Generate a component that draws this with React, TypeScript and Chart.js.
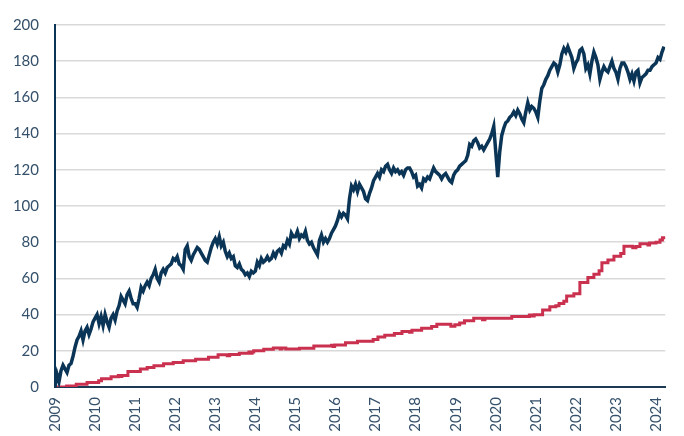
import React, { useEffect, useRef } from "react";
import { Chart, registerables } from "chart.js";

Chart.register(...registerables);

// Tick labels
const yearTicks = [2009, 2010, 2011, 2012, 2013, 2014, 2015, 2016, 2017, 2018, 2019, 2020, 2021, 2022, 2023, 2024];
const xMin = 2009;
const xMax = 2024.23;

// Navy series: sampled every 0.05 year starting 2009.00
const navyStart = 2009;
const navyStep = 0.05;
const navy2009 = [0, 7, 3, 9, 12, 10, 8, 12, 13, 17, 22, 26, 28, 31, 26, 31, 33, 29, 32, 36];
const navy2010 = [38, 40, 35, 39, 34, 40, 36, 33, 38, 40, 37, 42, 45, 50, 48, 46, 51, 53, 49, 46];
const navy2011 = [46, 44, 49, 55, 53, 56, 58, 56, 60, 62, 65, 60, 58, 63, 65, 63, 66, 67, 68, 71];
const navy2012 = [70, 72, 68, 67, 65, 76, 78, 72, 70, 73, 75, 77, 76, 74, 72, 70, 69, 73, 77, 80];
const navy2013 = [82, 79, 83, 78, 80, 75, 72, 74, 71, 72, 67, 66, 68, 65, 64, 62, 63, 61, 64, 63];
const navy2014 = [64, 69, 67, 71, 69, 70, 72, 70, 71, 74, 72, 75, 76, 74, 78, 77, 81, 79, 85, 83];
const navy2015 = [83, 86, 82, 84, 83, 86, 81, 79, 80, 77, 75, 73, 81, 84, 80, 82, 80, 82, 85, 87];
const navy2016 = [89, 92, 96, 94, 96, 95, 93, 104, 111, 109, 112, 108, 112, 110, 108, 104, 103, 107, 110, 114];
const navy2017 = [116, 118, 116, 120, 119, 122, 123, 120, 118, 121, 119, 120, 118, 119, 117, 120, 121, 121, 119, 116];
const navy2018 = [117, 111, 112, 110, 115, 114, 116, 115, 118, 121, 119, 118, 117, 115, 117, 118, 116, 114, 113, 117];
const navy2019 = [119, 120, 122, 123, 124, 125, 128, 134, 133, 136, 137, 135, 132, 133, 131, 133, 135, 137, 140, 144];
const navy2020 = [130, 116, 130, 139, 143, 146, 147, 149, 150, 152, 150, 153, 151, 148, 146, 152, 157, 153, 155, 154];
const navy2021 = [152, 149, 158, 165, 167, 170, 172, 175, 177, 179, 178, 174, 178, 184, 187, 185, 188, 185, 182, 176];
const navy2022 = [179, 181, 186, 187, 184, 176, 178, 173, 180, 185, 182, 178, 170, 174, 177, 175, 174, 177, 180, 176];
const navy2023 = [174, 170, 176, 179, 179, 177, 174, 170, 173, 169, 174, 175, 168, 171, 172, 173, 175, 175, 177, 178];
const navy2024 = [179, 182, 181, 185, 188];

// Red step series: [year of step, value]
const redYears = [
  2009.0, 2009.29, 2009.53, 2009.8, 2010.09, 2010.16, 2010.4, 2010.58, 2010.62, 2010.67, 2010.82,
  2011.13, 2011.3, 2011.47, 2011.71, 2011.95, 2012.2, 2012.51, 2012.83, 2013.07, 2013.3, 2013.36,
  2013.6, 2013.84, 2013.88, 2013.92, 2013.96, 2014.21, 2014.45, 2014.62, 2014.66, 2014.76, 2015.1,
  2015.46, 2015.9, 2015.94, 2015.98, 2016.25, 2016.55, 2016.94, 2017.06, 2017.23, 2017.47, 2017.66,
  2017.85, 2017.91, 2018.15, 2018.4, 2018.53, 2018.88, 2018.98, 2019.1, 2019.22, 2019.45, 2019.67,
  2019.73, 2020.4, 2020.84, 2020.9, 2020.96, 2021.17, 2021.35, 2021.5, 2021.58, 2021.7, 2021.77,
  2021.95, 2022.1, 2022.3, 2022.45, 2022.58, 2022.65, 2022.8, 2022.95, 2023.12, 2023.2, 2023.42,
  2023.5, 2023.6, 2023.8, 2023.84, 2024.0, 2024.1, 2024.16, 2024.23,
];
const redValues = [
  0, 0.5, 1.5, 2.5, 3.4, 4.6, 5.6, 6.4, 5.8, 6.4, 8.6,
  10.0, 10.8, 11.8, 12.8, 13.6, 14.5, 15.4, 16.4, 17.8, 17.3, 18.0,
  18.6, 19.3, 18.6, 19.4, 20.0, 20.8, 21.6, 21.0, 21.6, 21.0, 21.4,
  22.6, 23.1, 22.4, 23.2, 24.4, 25.3, 26.3, 27.6, 28.6, 29.5, 30.6,
  30.2, 31.4, 32.4, 33.4, 34.6, 33.6, 34.4, 35.3, 36.6, 38.0, 37.2,
  38.0, 38.9, 39.8, 39.2, 39.9, 42.5, 44.3, 44.9, 46.1, 47.4, 50.3,
  51.5, 57.8, 60.5, 62.3, 64.2, 68.6, 70.1, 72.3, 73.7, 77.7, 77.0,
  77.6, 79.1, 78.4, 79.5, 80.0, 81.2, 82.4, 83.0,
];

const navyColor = "#0b3556";
const redColor = "#c9314f";
const textColor = "#34506a";

export default function App() {
  const ref = useRef<HTMLCanvasElement | null>(null);

  useEffect(() => {
    document.body.style.margin = "0";
    const canvas = ref.current;
    if (!canvas) return;

    const navyValues = [
      ...navy2009, ...navy2010, ...navy2011, ...navy2012, ...navy2013, ...navy2014, ...navy2015,
      ...navy2016, ...navy2017, ...navy2018, ...navy2019, ...navy2020, ...navy2021, ...navy2022,
      ...navy2023, ...navy2024,
    ];
    const navyData = navyValues.map((v, i) => ({ x: navyStart + i * navyStep, y: v }));
    const redData = redYears.map((x, i) => ({ x, y: redValues[i] }));

    const chart = new Chart(canvas, {
      type: "line",
      data: {
        datasets: [
          {
            data: navyData,
            borderColor: navyColor,
            borderWidth: 3.5,
            pointRadius: 0,
            tension: 0,
            borderJoinStyle: "miter",
          },
          {
            data: redData,
            borderColor: redColor,
            borderWidth: 3,
            pointRadius: 0,
            stepped: "before",
          },
        ],
      },
      options: {
        animation: false,
        responsive: false,
        devicePixelRatio: 1,
        layout: { padding: { top: 17, left: 0, right: 0, bottom: 0 } },
        plugins: { legend: { display: false }, tooltip: { enabled: false } },
        scales: {
          x: {
            type: "linear",
            min: xMin,
            max: xMax,
            afterBuildTicks: (scale: any) => {
              scale.ticks = yearTicks.map((v) => ({ value: v }));
            },
            afterFit: (scale: any) => {
              scale.height = 49;
            },
            grid: { display: false, drawTicks: false },
            border: { display: true, color: "#1d3a55", width: 2 },
            ticks: {
              autoSkip: false,
              maxRotation: 90,
              minRotation: 90,
              padding: 10,
              color: textColor,
              font: { family: "Lato", size: 15 },
              callback: (v: any) => String(v),
            },
          },
          y: {
            min: 0,
            max: 200,
            afterFit: (scale: any) => {
              scale.width = 55;
            },
            grid: { color: "#d9d9d9", lineWidth: 1.5, drawTicks: false },
            border: { display: true, color: "#0b3556", width: 2 },
            ticks: {
              stepSize: 20,
              padding: 16,
              color: textColor,
              font: { family: "Lato", size: 15 },
            },
          },
        },
      },
    });
    return () => chart.destroy();
  }, []);

  return (
    <div style={{ width: 684, height: 436 }}>
      <canvas ref={ref} width={684} height={436} />
    </div>
  );
}
